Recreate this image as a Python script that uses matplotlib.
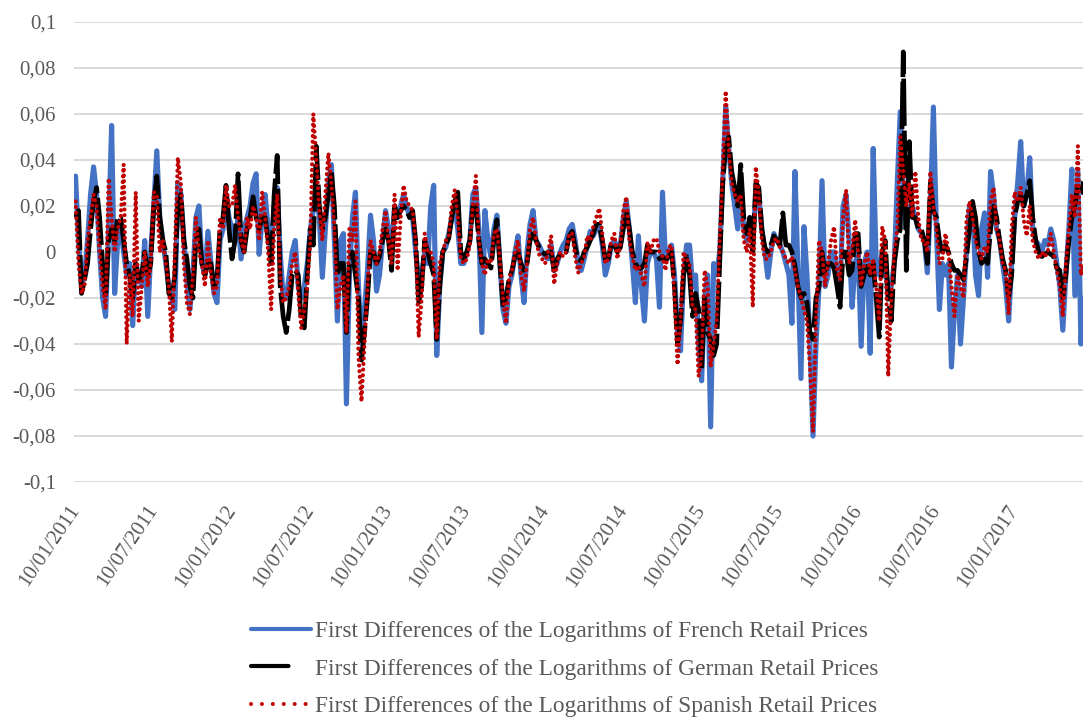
'''
First differences of log retail prices: France, Germany, Spain (weekly)
'''

import matplotlib
matplotlib.use('Agg')
import matplotlib.pyplot as plt
from matplotlib.lines import Line2D
import numpy as np

# weekly values, in thousandths
french = [
    33, 5, -15, -10, 5, 25, 37, 25, 0, -20, -28, 10, 55, -18, 5, 10, 0, -10, -5, -32,
    -5, -10, -15, 5, -28, 0, 20, 44, 15, 5, -5, -15, -20, -25, 30, 25, 5, -12, -25, -10,
    15, 20, -5, -10, 9, -5, -18, -22, 5, 10, 25, 15, 10, 5, 15, -3, 10, 15, 20, 30,
    34, -1, 15, 25, 10, 0, 20, 28, 0, -20, -20, -10, 0, 5, -15, -20, -15, -5, 10, 18,
    28, 15, -11, 10, 30, 38, 5, -30, 5, 8, -66, -10, 15, 26, -15, -40, -25, -8, 16, 5,
    -17, -10, 5, 18, 10, 0, 20, 15, 20, 25, 20, 15, 15, 0, -12, -10, 0, -5, 20, 29,
    -45, -15, 0, 2, 8, 15, 20, 10, -5, -5, 0, 5, 25, 28, 10, -35, 18, 5, -2, 10,
    16, -5, -25, -31, -15, -10, 0, 7, -10, -22, 0, 12, 18, 5, 3, 0, -2, -3, 3, -8,
    -5, 0, 3, 5, 10, 12, 5, -5, -8, -3, 3, 9, 7, 10, 12, 3, -10, -5, 3, 5,
    2, 3, 15, 22, 10, -5, -22, 7, -15, -30, -5, 0, 0, -3, -24, 26, -3, 0, 3, -10,
    -35, -43, -10, 3, 3, -15, -10, -40, -56, -20, -10, -76, -5, -10, 0, 30, 63, 45, 30, 20,
    10, 30, 10, 5, 15, 5, 25, 25, 10, 0, -11, 0, 8, 5, 3, 0, -5, -10, -31, 35,
    -8, -55, 11, -10, -40, -80, -40, -15, 31, -15, -10, 0, 0, -10, -15, 20, 25, 5, -24, -5,
    0, -41, -5, 0, -44, 45, -5, -10, 0, -5, -20, -15, -5, 30, 61, 25, 10, 20, 20, 15,
    10, 8, 5, -9, 20, 63, 10, -25, -5, -10, -5, -50, -25, -10, -40, -20, 0, 20, 20, -10,
    -19, 10, 17, -11, 35, 25, 10, 5, -5, -15, -30, -5, 15, 30, 48, 20, 25, 41, 10, 5,
    3, 0, 5, 3, 10, 5, -5, -15, -34, -10, 10, 36, -19, 35, -40, -20,
]
german = [
    15, 18, -18, -12, -5, 10, 22, 28, 15, -5, -20, 5, 10, 5, 15, 15, 5, -5, -10, -20,
    -5, -12, -10, 0, -10, -5, 20, 33, 15, 5, 0, -18, -20, -10, 20, 25, 5, -3, -15, -20,
    5, 10, -5, -10, -5, -5, -15, -12, 10, 15, 29, 10, -3, 5, 34, 5, 0, 10, 15, 24,
    15, 10, 15, 15, 5, -5, 25, 42, -15, -28, -35, -25, -10, -8, -10, -30, -33, -10, 10, 3,
    46, 20, 10, 15, 25, 35, 20, -10, -5, -5, -35, -5, 0, -10, -20, -47, -35, -20, 0, 0,
    -5, -2, 5, 10, 5, -8, 20, 15, 18, 20, 18, 15, 18, 5, -22, -15, 5, 0, -5, -10,
    -38, -15, 0, 3, 6, 15, 22, 26, 0, -3, 0, 5, 20, 20, 5, -5, -3, -5, -7, 5,
    14, -5, -23, -20, -12, -8, -2, 0, -5, -8, -5, 5, 8, 5, 2, 0, -1, 0, 0, -8,
    -3, -1, 0, 0, 7, 9, 2, -3, -4, 0, 2, 5, 8, 12, 12, 5, -3, -3, 4, 3,
    0, 2, 10, 18, 10, 0, -5, -7, -7, -5, 3, 0, 0, 0, -3, -2, -4, -2, 0, -15,
    -40, -30, -10, -2, -10, -28, -18, -25, -51, -20, -35, -38, -45, -40, -5, 30, 45, 50, 35, 28,
    20, 38, 15, 8, 15, 0, 30, 28, 10, 2, 0, 3, 7, 5, 3, 17, 3, 3, 0, -6,
    -15, -20, -18, -22, -35, -38, -20, -15, 0, -10, -5, -5, -7, -15, -24, 0, 0, -10, -8, 8,
    8, -15, -10, -5, -10, -5, -20, -37, 0, 5, -20, -30, -5, 5, 10, 87, -8, 48, 15, 15,
    10, 10, 5, -5, 30, 18, 15, 5, 0, 3, 0, -5, -8, -8, -10, -12, -2, 10, 22, 15,
    0, -5, -3, -5, 10, 20, 15, 5, -3, -8, -20, -10, 15, 22, 25, 20, 25, 31, 15, 5,
    0, -2, -1, 0, -1, -2, -7, -8, -20, -10, 5, 15, 20, 30, 30, 25,
]
spanish = [
    22, -5, -18, -15, 5, 15, 25, 20, 0, -15, -25, 32, 15, 0, 10, 15, 38, -40, -10, -28,
    26, -30, -15, 0, -15, -5, 26, 25, 0, 5, -5, -15, -39, 0, 41, 30, -5, -22, -27, -10,
    15, 0, -5, -15, 5, -10, -18, -15, 15, 10, 29, 20, 20, 29, 15, 5, 0, 15, 10, 20,
    15, 5, 26, 15, 0, -25, 10, 25, -10, -22, -20, -15, -5, 0, -18, -33, -25, -15, 5, 60,
    40, 18, 5, 25, 43, 30, 10, -25, -15, -10, -35, 10, 5, 22, -45, -65, -40, -15, 5, 0,
    -5, 0, 10, 18, 5, -5, 25, -8, 15, 29, 22, 20, 18, 5, -37, -20, 8, 0, 0, -5,
    -38, -5, 0, 5, 7, 20, 27, 15, -3, -5, -3, 3, 20, 33, 5, -5, -10, -3, -5, 8,
    10, -3, -20, -31, -12, -8, 0, 5, -10, -17, -5, 10, 15, 5, -1, -3, -5, 0, 7, -14,
    -5, 0, -2, 0, 8, 8, -2, -9, -5, -2, 7, 5, 11, 15, 19, 8, -5, -3, 5, 8,
    -3, 3, 18, 24, 5, -2, -8, -6, -10, -15, 4, 0, 5, 6, 0, -2, -8, 2, 3, -20,
    -49, -30, 0, -3, -5, -24, -25, -54, -45, -8, -15, -50, -40, -30, 5, 35, 70, 45, 30, 25,
    22, 25, 5, 0, 10, -24, 37, 25, 5, -3, -3, 0, 5, 6, 2, 0, -3, -5, -2, -8,
    -15, -20, -25, -30, -50, -78, -30, 5, 0, -15, -5, 5, 11, -8, -12, 15, 27, -5, 0, 14,
    0, -15, -5, 0, -10, -3, -15, -30, 11, 5, -54, -20, 0, 10, 50, 35, 20, 30, 15, 35,
    15, 5, 5, 0, 35, 20, 10, -5, -3, 8, 0, -15, -28, -10, -15, -20, 14, 22, 15, 5,
    0, -3, 2, 0, 22, 28, 10, 5, -5, -8, -27, 10, 26, 22, 28, 14, 7, 20, 5, 0,
    -3, 0, -2, 0, 8, 0, -8, -15, -28, -5, 10, 25, 15, 46, -10, -5,
]

# one label every 26 weeks
tick_labels = ['10/01/2011', '10/07/2011', '10/01/2012', '10/07/2012',
               '10/01/2013', '10/07/2013', '10/01/2014', '10/07/2014',
               '10/01/2015', '10/07/2015', '10/01/2016', '10/07/2016',
               '10/01/2017']

series_names = [
    'First Differences of the Logarithms of French Retail Prices',
    'First Differences of the Logarithms of German Retail Prices',
    'First Differences of the Logarithms of Spanish Retail Prices',
]

BLUE = '#4472C4'
BLACK = '#000000'
RED = '#C00000'
GREY_TXT = '#595959'
GRID = '#D9D9D9'

plt.rcParams['font.family'] = ['Liberation Serif', 'DejaVu Serif']

fr = np.array(french) / 1000
de = np.array(german) / 1000
es = np.array(spanish) / 1000
weeks = np.arange(len(fr))

fig = plt.figure(figsize=(10.83, 7.2), dpi=100)
ax = fig.add_axes([74 / 1083, 1 - 482 / 720, 1 - 74 / 1083, 460 / 720])

ax.plot(weeks, fr, color=BLUE, lw=3.7, solid_joinstyle='round',
        solid_capstyle='round', zorder=3)
ax.plot(weeks, de, color=BLACK, lw=3.4, linestyle=(0, (10, 1.0)),
        dash_capstyle='butt', dash_joinstyle='round', zorder=4)
ax.plot(weeks, es, color=RED, lw=3.0, linestyle=(0, (0.01, 1.35)),
        dash_capstyle='round', zorder=5)

ax.set_ylim(-0.1, 0.1)
ax.set_xlim(-0.5, 334.7)
yt = np.round(np.arange(-0.1, 0.1001, 0.02), 2)
ax.set_yticks(yt)
ax.set_yticklabels([('%g' % v).replace('.', ',') for v in yt])
ax.set_xticks(np.arange(len(tick_labels)) * 26)
ax.set_xticklabels(tick_labels, rotation=56, ha='right', va='center',
                   rotation_mode='anchor')
ax.tick_params(axis='both', length=0, labelsize=15, labelcolor=GREY_TXT)
ax.tick_params(axis='y', pad=13)
ax.tick_params(axis='x', pad=18)
ax.grid(axis='y', color=GRID, lw=1.4, zorder=0)
ax.set_axisbelow(True)
for s in ax.spines.values():
    s.set_visible(False)

handles = [
    Line2D([], [], color=BLUE, lw=3.0, solid_capstyle='round'),
    Line2D([], [], color=BLACK, lw=3.0, linestyle=(0, (9, 9)),
           dash_capstyle='round'),
    Line2D([], [], color=RED, lw=2.9, linestyle=(0, (0.01, 2.7)),
           dash_capstyle='round'),
]
fig.legend(handles, series_names, loc='upper left',
           bbox_to_anchor=(251 / 1083, 1 - 621 / 720), frameon=False,
           fontsize=16.8, labelcolor=GREY_TXT, handlelength=2.57,
           handletextpad=0.17, labelspacing=0.68, borderpad=0,
           borderaxespad=0)

fig.savefig('out.png', dpi=100)
